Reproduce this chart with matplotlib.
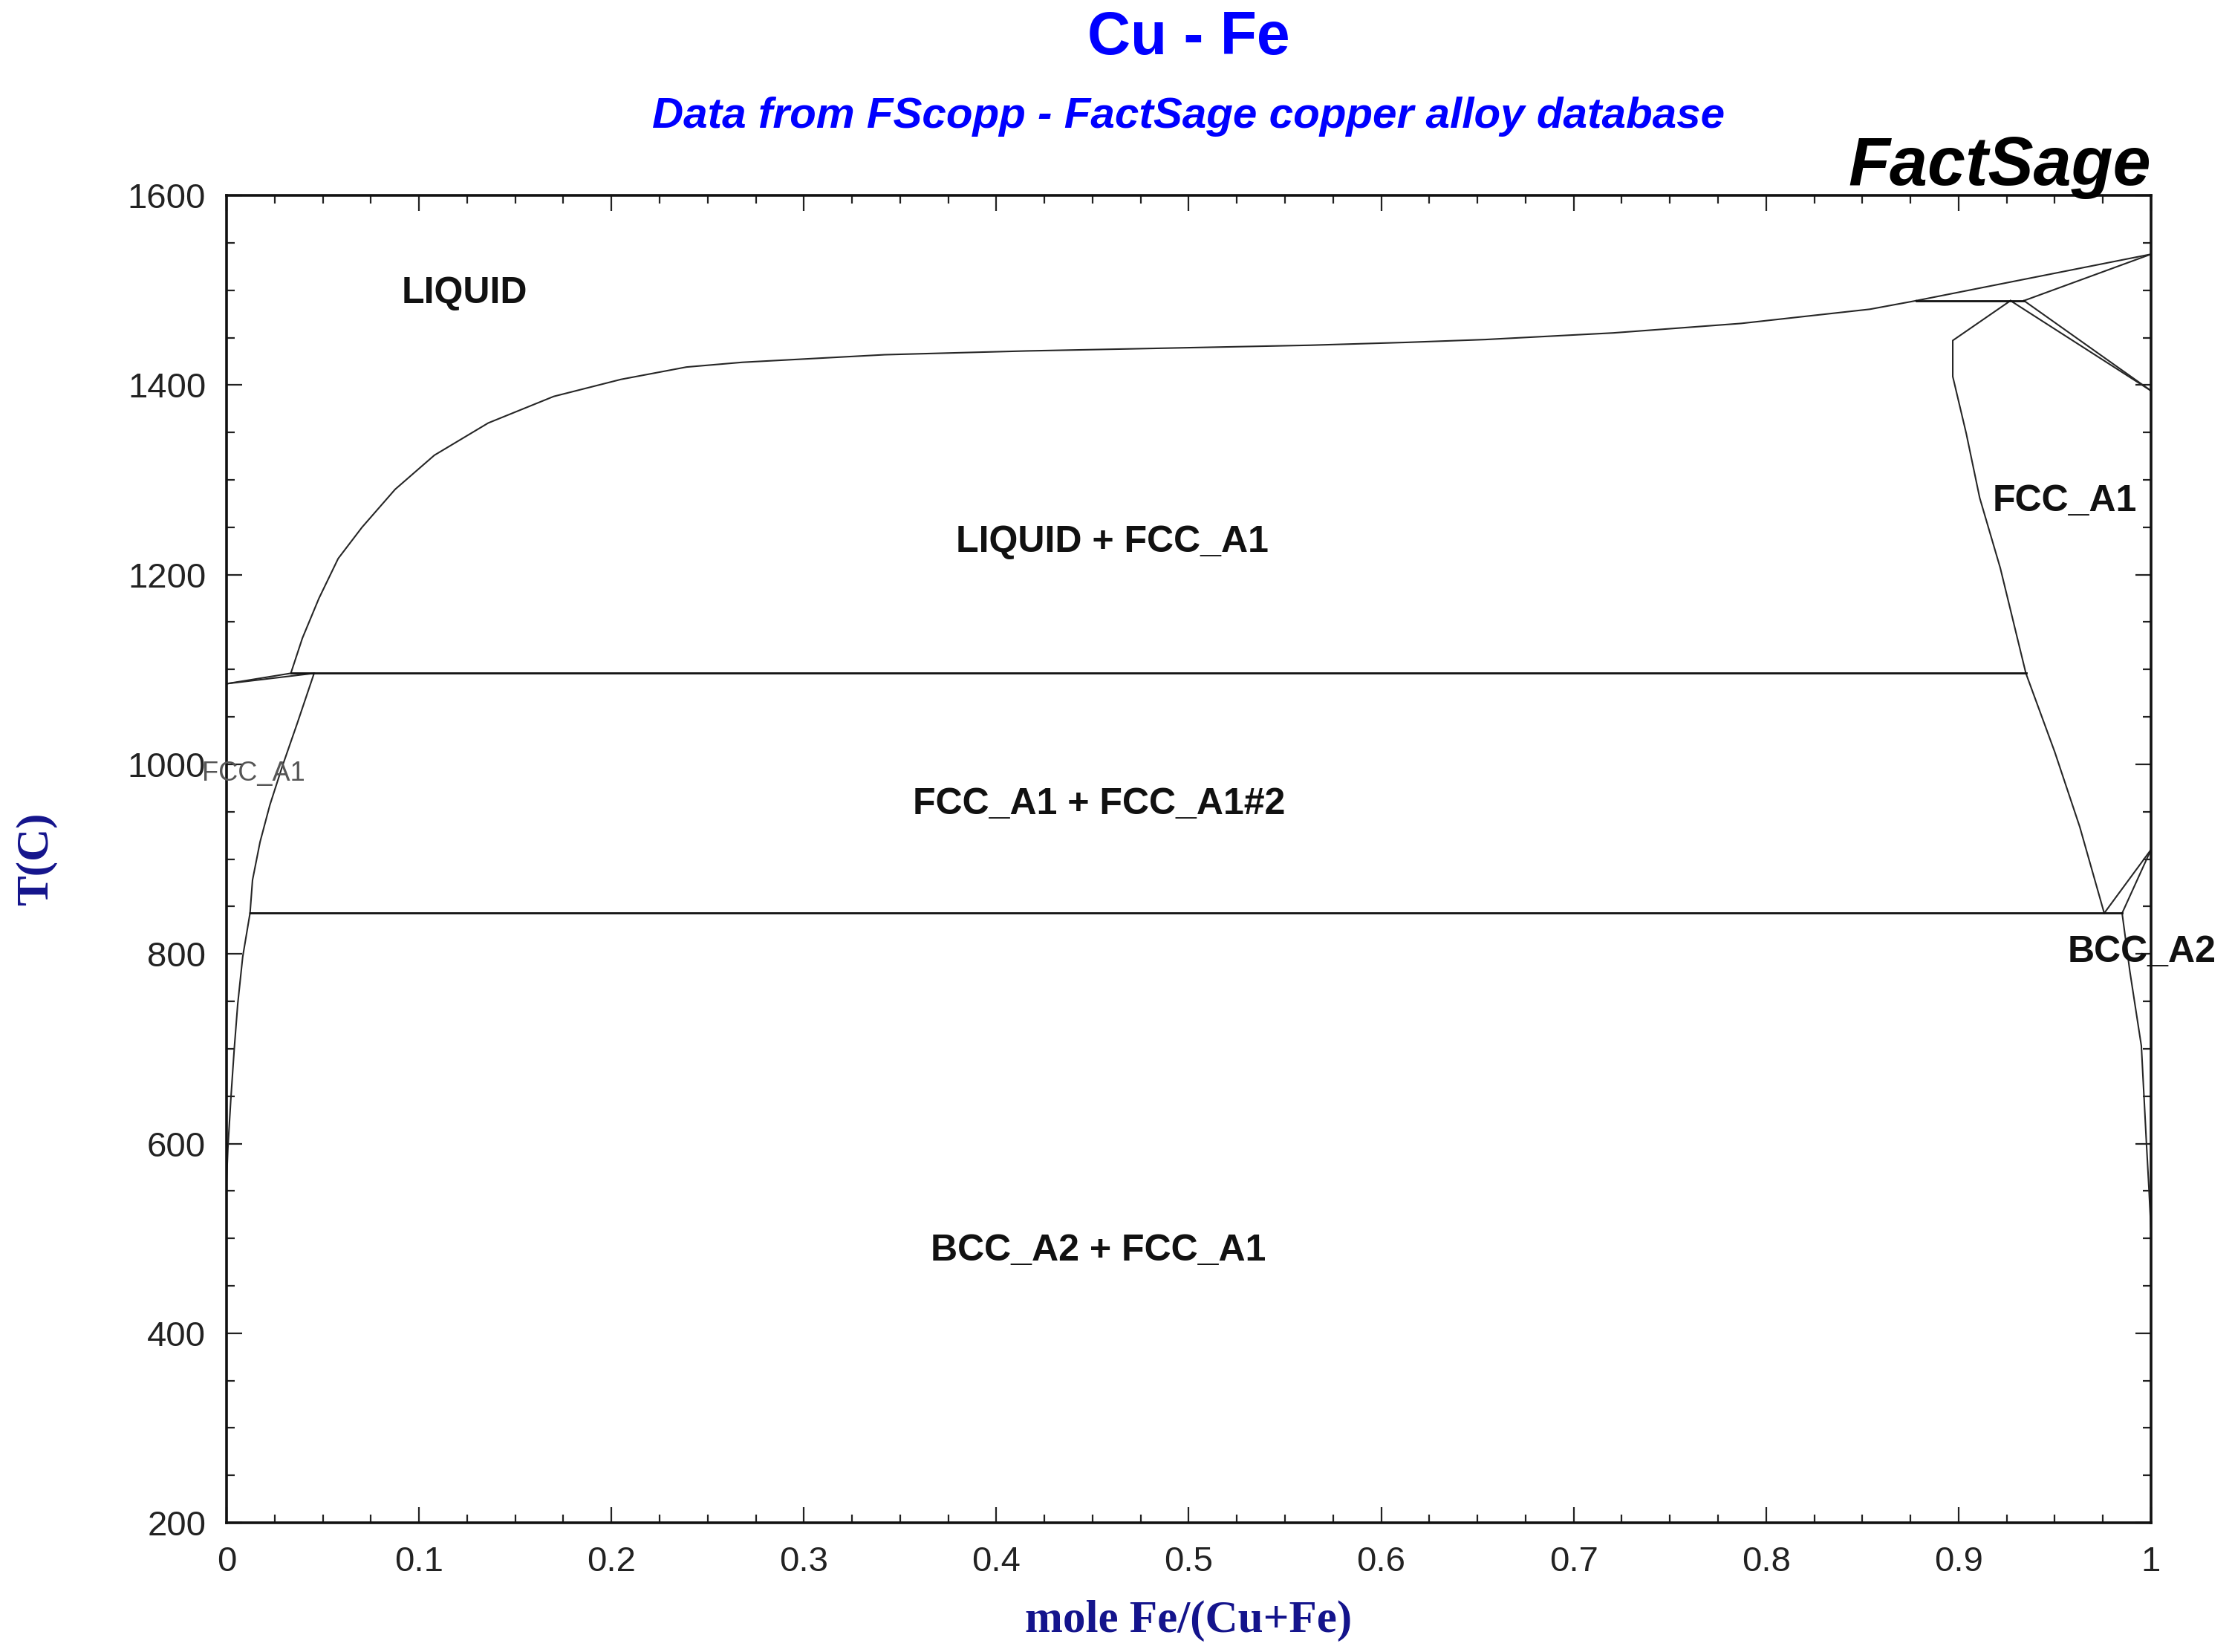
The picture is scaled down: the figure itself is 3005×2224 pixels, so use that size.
import matplotlib
matplotlib.use('Agg')
import matplotlib.pyplot as plt
from matplotlib.ticker import MultipleLocator, FormatStrFormatter

# phase boundaries (x = mole Fe/(Cu+Fe), T in C)
liquidus_x = [0.0334, 0.0394, 0.048, 0.058, 0.0704, 0.0876, 0.108, 0.136, 0.170, 0.205,
              0.239, 0.268, 0.342, 0.416, 0.490, 0.563, 0.613, 0.654, 0.7206, 0.787,
              0.854, 0.878]
liquidus_T = [1096, 1133, 1175, 1217, 1250, 1290, 1326, 1360, 1388, 1406,
              1419, 1424, 1432, 1436, 1439, 1442, 1445, 1448, 1455, 1465,
              1480, 1489]
liq_delta_x = [0.878, 1.0]
liq_delta_T = [1489, 1538]
delta_sol_x = [0.934, 1.0]
delta_sol_T = [1489, 1538]
cu_liq_x = [0.0, 0.0334]
cu_liq_T = [1085, 1096]
cu_sol_x = [0.0, 0.0455]
cu_sol_T = [1085, 1096]
cu_fcc_x = [0.0455, 0.0367, 0.029, 0.0225, 0.0174, 0.0135, 0.0122]
cu_fcc_T = [1096, 1043, 998, 957, 918, 878, 843]
cu_solvus_x = [0.0122, 0.0084, 0.0058, 0.0039, 0.0022, 0.0007, 0.0]
cu_solvus_T = [843, 797, 747, 697, 646, 595, 560]
fe_fcc_x = [0.927, 0.897, 0.897, 0.904, 0.911, 0.9217, 0.935, 0.950, 0.963, 0.9757]
fe_fcc_T = [1489, 1447, 1409, 1349, 1281, 1207, 1096, 1013, 934, 843]
gam_delta_x = [0.927, 1.0]
gam_delta_T = [1489, 1394]
delta_gam_x = [0.934, 1.0]
delta_gam_T = [1489, 1394]
gam_alpha_x = [0.9757, 1.0]
gam_alpha_T = [843, 910]
alpha_gam_x = [0.985, 1.0]
alpha_gam_T = [843, 910]
bcc_solvus_x = [0.985, 0.989, 0.995, 0.9977, 0.999, 1.0]
bcc_solvus_T = [843, 782, 703, 598, 550, 510]
# invariant lines
peritectic_fe_x = [0.878, 0.934]
peritectic_fe_T = [1489, 1489]
peritectic_cu_x = [0.0334, 0.935]
peritectic_cu_T = [1096, 1096]
eutectoid_x = [0.0122, 0.985]
eutectoid_T = [843, 843]

labels = ['LIQUID', 'LIQUID + FCC_A1', 'FCC_A1 + FCC_A1#2', 'BCC_A2 + FCC_A1', 'FCC_A1', 'BCC_A2']
label_x = [0.1236, 0.4604, 0.4534, 0.453, 0.9552, 0.9952]
label_T = [1497, 1234, 958, 487, 1277, 802]

sans = ['Liberation Sans', 'DejaVu Sans']
serif = ['Liberation Serif', 'DejaVu Serif']

fig = plt.figure(figsize=(15.025, 11.12), dpi=200)
ax = fig.add_axes([0.1015, 0.0782, 0.8622, 0.8035])

curves = [(liquidus_x, liquidus_T), (liq_delta_x, liq_delta_T), (delta_sol_x, delta_sol_T),
          (cu_liq_x, cu_liq_T), (cu_sol_x, cu_sol_T), (cu_fcc_x, cu_fcc_T),
          (cu_solvus_x, cu_solvus_T), (fe_fcc_x, fe_fcc_T), (gam_delta_x, gam_delta_T),
          (delta_gam_x, delta_gam_T), (gam_alpha_x, gam_alpha_T), (alpha_gam_x, alpha_gam_T),
          (bcc_solvus_x, bcc_solvus_T)]
for cx, cT in curves:
    ax.plot(cx, cT, color='#262626', lw=0.75, solid_joinstyle='round')
for cx, cT in [(peritectic_fe_x, peritectic_fe_T), (peritectic_cu_x, peritectic_cu_T),
               (eutectoid_x, eutectoid_T)]:
    ax.plot(cx, cT, color='#111111', lw=1.0)

for name, lx, lT in zip(labels, label_x, label_T):
    ax.text(lx, lT, name, ha='center', va='center', fontsize=18, fontweight='bold',
            family=sans, color='#111111')
ax.text(0.0139, 990, 'FCC_A1', ha='center', va='center', fontsize=13,
        family=sans, color='#555555')

ax.set_xlim(0, 1)
ax.set_ylim(200, 1600)
ax.xaxis.set_major_locator(MultipleLocator(0.1))
ax.xaxis.set_minor_locator(MultipleLocator(0.025))
ax.yaxis.set_major_locator(MultipleLocator(200))
ax.yaxis.set_minor_locator(MultipleLocator(50))
ax.xaxis.set_major_formatter(FormatStrFormatter('%g'))
ax.tick_params(which='both', direction='in', top=True, right=True, width=0.8, color='#222222')
ax.tick_params(which='major', length=7.5)
ax.tick_params(which='minor', length=4)
ax.tick_params(axis='x', pad=11, labelsize=17, labelcolor='#222222')
ax.tick_params(axis='y', pad=10, labelsize=17, labelcolor='#222222')
for lab in ax.get_xticklabels() + ax.get_yticklabels():
    lab.set_family(sans)
for sp in ax.spines.values():
    sp.set_linewidth(1.3)
    sp.set_color('#111111')

ax.set_xlabel('mole Fe/(Cu+Fe)', fontsize=22, fontweight='bold', family=serif, color='#14148c')
ax.set_ylabel('T(C)', fontsize=22, fontweight='bold', family=serif, color='#14148c')
ax.xaxis.set_label_coords(0.5, -0.058)
ax.yaxis.set_label_coords(-0.088, 0.5)

fig.text(0.5325, 0.9766, 'Cu - Fe', ha='center', va='center', fontsize=29,
         fontweight='bold', family=sans, color='#0000ff')
fig.text(0.5325, 0.9294, 'Data from FScopp - FactSage copper alloy database', ha='center',
         va='center', fontsize=21, fontweight='bold', style='italic', family=sans, color='#0000ff')
fig.text(0.9637, 0.888, 'FactSage', ha='right', va='baseline', fontsize=33,
         fontweight='bold', style='italic', family=sans, color='black')

fig.savefig('out.png', dpi=200)
